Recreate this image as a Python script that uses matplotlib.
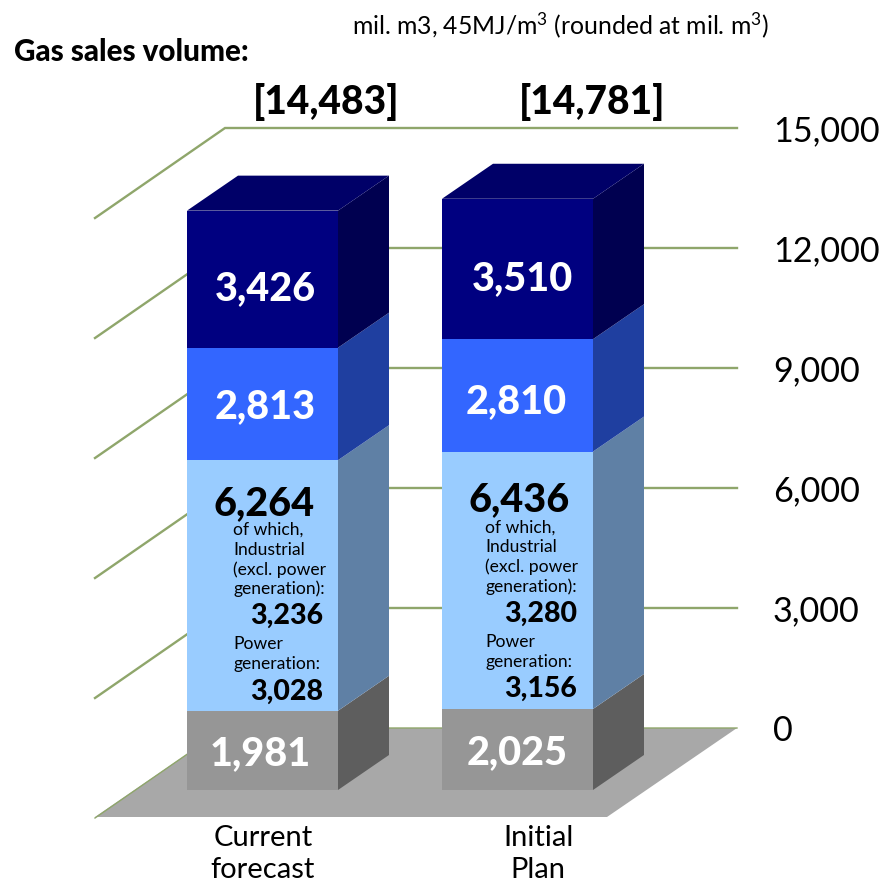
import matplotlib
matplotlib.use("Agg")
import matplotlib.pyplot as plt
from matplotlib.patches import Polygon

plt.rcParams['font.family'] = ['Lato', 'DejaVu Sans']
plt.rcParams['mathtext.fontset'] = 'custom'
plt.rcParams['mathtext.rm'] = 'Lato'
plt.rcParams['mathtext.default'] = 'rm'

categories = [["Current", "forecast"], ["Initial", "Plan"]]
totals = ["[14,483]", "[14,781]"]
# stacked bottom to top
gray_vals = [1981, 2025]
light_vals = [6264, 6436]
blue_vals = [2813, 2810]
navy_vals = [3426, 3510]
industrial_vals = [3236, 3280]
power_vals = [3028, 3156]
y_ticks = [0, 3000, 6000, 9000, 12000, 15000]

# projection, in picture pixels
PX_PER_UNIT = 0.04
BASE_BACK = 728
BASE_BAR = 790
WALL_X = 225
WALL_END = 737
DEPTH_X, DEPTH_Y = 130, 90
BAR_DX, BAR_DY = 51, 35
bar_left = [187, 442]
bar_width = 151

GRID = "#8FA66B"
HEAVY = 900
# front, side, top
navy = ("#000080", "#000050", "#000068")
blue = ("#3366FF", "#1F3FA0", "#264DC0")
light = ("#99CCFF", "#5F80A5", "#7FA8D0")
gray = ("#969696", "#5E5E5E", "#777777")

fig = plt.figure(figsize=(8.82, 8.82), dpi=100)
ax = fig.add_axes([0, 0, 1, 1])
ax.set_xlim(0, 882)
ax.set_ylim(882, 0)
ax.axis("off")


def wall_y(v):
    return BASE_BACK - v * PX_PER_UNIT


def bar_y(v):
    return BASE_BAR - v * PX_PER_UNIT


# floor
ax.add_patch(Polygon([(WALL_X, wall_y(0)), (WALL_END, wall_y(0)),
                      (WALL_END - DEPTH_X, wall_y(0) + DEPTH_Y - 1),
                      (WALL_X - DEPTH_X, wall_y(0) + DEPTH_Y - 1)],
                     fc="#A8A8A8", ec="none", zorder=1))

# grid lines on the wall and the side
for v in y_ticks:
    y = wall_y(v)
    ax.plot([WALL_X - DEPTH_X, WALL_X, WALL_END], [y + DEPTH_Y, y, y],
            color=GRID, lw=1.0 if v == 0 else 1.7, zorder=2, solid_joinstyle="miter")
    ax.text(773, y + 3, f"{v:,}", fontsize=24.6, color="black",
            ha="left", va="center", zorder=5)

# bars
for i in range(2):
    x0 = bar_left[i]
    x1 = x0 + bar_width
    base = 0
    segs = [(gray_vals[i], gray), (light_vals[i], light),
            (blue_vals[i], blue), (navy_vals[i], navy)]
    for val, (front, side, top) in segs:
        y0 = bar_y(base)
        y1 = bar_y(base + val)
        ax.add_patch(Polygon([(x0, y0), (x1, y0), (x1, y1), (x0, y1)],
                             fc=front, ec="none", zorder=3))
        ax.add_patch(Polygon([(x1, y0), (x1 + BAR_DX, y0 - BAR_DY),
                              (x1 + BAR_DX, y1 - BAR_DY), (x1, y1)],
                             fc=side, ec="none", zorder=3))
        base += val
    y_top = bar_y(base)
    ax.add_patch(Polygon([(x0, y_top), (x1, y_top),
                          (x1 + BAR_DX, y_top - BAR_DY),
                          (x0 + BAR_DX, y_top - BAR_DY)],
                         fc=navy[2], ec="none", zorder=3))

# value labels
big = 28.5
for i, lx in enumerate([[265, 265, 260], [522, 516, 517]]):
    ys = [[289, 407, 754], [279, 402, 753]][i]
    vals = [navy_vals[i], blue_vals[i], gray_vals[i]]
    for x, y, v in zip(lx, ys, vals):
        ax.text(x, y, f"{v:,}", fontsize=big, fontweight=HEAVY, color="white",
                ha="center", va="center", zorder=6)

for i, (cx, y6, left, ys, right) in enumerate([
        (264, 504, 233, [530, 550, 570, 589, 616, 644, 664, 692], 323),
        (519, 500, 485, [528, 547, 567, 587, 614, 642, 662, 689], 577)]):
    ax.text(cx, y6, f"{light_vals[i]:,}", fontsize=28.5, fontweight=HEAVY,
            ha="center", va="center", zorder=6)
    for y, s in zip(ys[:4], ["of which,", "Industrial", "(excl. power", "generation):"]):
        ax.text(left, y, s, fontsize=12.6, ha="left", va="center", zorder=6)
    ax.text(right, ys[4], f"{industrial_vals[i]:,}", fontsize=20.5, fontweight=HEAVY,
            ha="right", va="center", zorder=6)
    for y, s in zip(ys[5:7], ["Power", "generation:"]):
        ax.text(left, y, s, fontsize=12.6, ha="left", va="center", zorder=6)
    ax.text(right, ys[7], f"{power_vals[i]:,}", fontsize=20.5, fontweight=HEAVY,
            ha="right", va="center", zorder=6)

# category labels and totals
for cx, lab in zip([263, 538], categories):
    ax.text(cx, 838, lab[0], fontsize=21, ha="center", va="center")
    ax.text(cx, 870, lab[1], fontsize=21, ha="center", va="center")
for cx, t in zip([326, 592], totals):
    ax.text(cx, 102, t, fontsize=28, fontweight=HEAVY, ha="center", va="center")

ax.text(14, 52, "Gas sales volume:", fontsize=21.3, fontweight=HEAVY, ha="left", va="center")
ax.text(352, 25, "mil. m3, 45MJ/m$^{3}$ (rounded at mil. m$^{3}$)", fontsize=17.8, ha="left", va="center")

fig.savefig("out.png", dpi=100)
